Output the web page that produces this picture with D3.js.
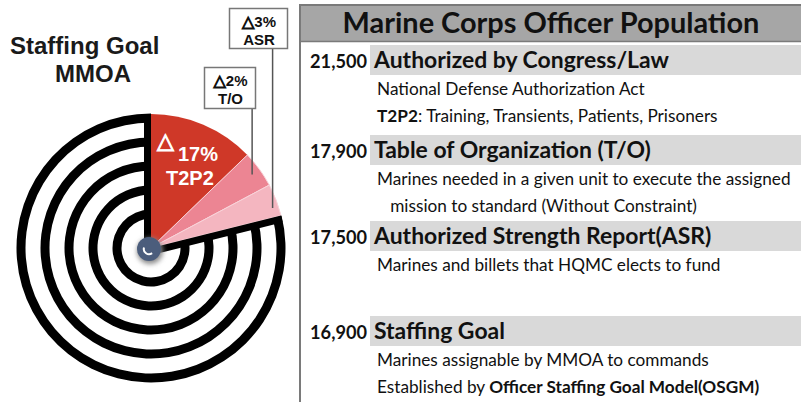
<!doctype html>
<html>
<head>
<meta charset="utf-8">
<script src="https://d3js.org/d3.v7.min.js"></script>
<style>
    body { margin: 0; background: #fff; }
    svg { display: block; }
    .tbl { font-family: Lato, "Open Sans", sans-serif; fill: #111; }
    .tbl-b { font-family: Lato, "Open Sans", sans-serif; font-weight: bold; fill: #111; }
    .gfx { font-family: "Liberation Sans", Arial, "DejaVu Sans", sans-serif; font-weight: bold; }
    .tri { font-family: "DejaVu Sans", sans-serif; font-weight: bold; }
</style>
</head>
<body>
<svg width="801" height="402"></svg>
<script>

    // population levels (table on the right)
    var levels = ["Authorized by Congress/Law", "Table of Organization (T/O)",
                  "Authorized Strength Report(ASR)", "Staffing Goal"];
    var officers = [21500, 17900, 17500, 16900];
    var notes = [
        ["National Defense Authorization Act", "**T2P2**: Training, Transients, Patients, Prisoners"],
        ["Marines needed in a given unit to execute the assigned", "   mission to standard (Without Constraint)"],
        ["Marines and billets that HQMC elects to fund"],
        ["Marines assignable by MMOA to commands", "Established by **Officer Staffing Goal Model(OSGM)**"]
    ];

    // gaps shown as wedges on the target
    var gapNames = ["T2P2", "T/O", "ASR"];
    var gapPct = [17, 2, 3];
    var wedgeColors = ["#cf3828", "#ec8593", "#f4b6c0"];

    // target rings
    var rings = [1, 2, 3, 4, 5];

    var svg = d3.select("svg");
    var fmt = d3.format(",");

    function sizeFor(str, cls, width) {
        var t = svg.append("text").attr("class", cls).style("font-size", "100px").text(str);
        var w = t.node().getComputedTextLength();
        t.remove();
        return 100 * width / w;
    }

    // ---------- table ----------
    var tbl = svg.append("g");
    tbl.append("rect")
       .attr("x", 300).attr("y", 5).attr("width", 520).attr("height", 420)
       .attr("fill", "#fff").attr("stroke", "#7a7a7a").attr("stroke-width", 2);
    tbl.append("rect")
       .attr("x", 301).attr("y", 6).attr("width", 520).attr("height", 35)
       .attr("fill", "#a6a6a6");
    tbl.append("line")
       .attr("x1", 300).attr("x2", 801).attr("y1", 41.5).attr("y2", 41.5)
       .attr("stroke", "#7a7a7a").attr("stroke-width", 1.5);

    var titleSize = sizeFor("Marine Corps Officer Population", "tbl-b", 417);
    tbl.append("text").attr("class", "tbl-b")
       .attr("x", 551).attr("y", 33).attr("text-anchor", "middle")
       .style("font-size", titleSize + "px")
       .text("Marine Corps Officer Population");

    var headSize = sizeFor(levels[0], "tbl-b", 295);
    var numSize = sizeFor(fmt(officers[0]), "tbl-b", 57);
    var noteSize = sizeFor(notes[0][0], "tbl", 268);

    var rowTop = [45, 135, 221, 316];
    var rows = levels.map(function(d, i) {
        return { name: d, count: officers[i], notes: notes[i], top: rowTop[i] };
    });

    var row = tbl.selectAll(".row").data(rows).enter().append("g").attr("class", "row");

    row.append("rect")
       .attr("x", 370).attr("y", function(d) { return d.top; })
       .attr("width", 440).attr("height", 30)
       .attr("fill", "#d9d9d9");

    row.append("text").attr("class", "tbl-b")
       .attr("x", 367).attr("y", function(d) { return d.top + 23; })
       .attr("text-anchor", "end")
       .style("font-size", numSize + "px")
       .text(function(d) { return fmt(d.count); });

    row.append("text").attr("class", "tbl-b")
       .attr("x", 374).attr("y", function(d) { return d.top + 23; })
       .style("font-size", headSize + "px")
       .text(function(d) { return d.name; });

    row.each(function(d) {
        var g = d3.select(this);
        d.notes.forEach(function(line, j) {
            var t = g.append("text").attr("class", "tbl")
                     .attr("x", 377).attr("y", d.top + 50 + j * 26.5)
                     .style("font-size", noteSize + "px")
                     .style("white-space", "pre");
            line.split("**").forEach(function(part, k) {
                if (!part) return;
                t.append("tspan")
                 .style("font-weight", k % 2 ? "bold" : "normal")
                 .text(part);
            });
        });
    });

    // ---------- target graphic ----------
    var cx = 151, cy = 248, R = 134;
    var gfx = svg.append("g").attr("class", "gfx");

    gfx.append("text").attr("x", 10).attr("y", 54)
       .style("font-size", "24px").attr("fill", "#1a1a1a").text("Staffing Goal");
    gfx.append("text").attr("x", 55).attr("y", 82)
       .style("font-size", "24px").attr("fill", "#1a1a1a").text("MMOA");

    var cum = [0];
    gapPct.forEach(function(p) { cum.push(cum[cum.length - 1] + p); });
    var rad = Math.PI / 180;
    var angle = d3.scaleLinear().domain(cum).range([0, 46 * rad, 62 * rad, 76 * rad]);
    var endA = angle(cum[cum.length - 1]);

    var target = gfx.append("g").attr("transform", "translate(" + cx + "," + cy + ")");

    var ringR = d3.scaleLinear().domain([1, rings.length]).range([34, 130]);
    var ringArc = d3.arc()
        .innerRadius(function(d) { return ringR(d) - 4.5; })
        .outerRadius(function(d) { return ringR(d) + 4.5; })
        .startAngle(endA).endAngle(2 * Math.PI);

    target.selectAll(".ring").data(rings).enter().append("path")
          .attr("class", "ring").attr("d", ringArc).attr("fill", "#000");

    var wedges = gapPct.map(function(p, i) {
        return { name: gapNames[i], pct: p, a0: angle(cum[i]), a1: angle(cum[i + 1]), color: wedgeColors[i] };
    });
    var wedgeArc = d3.arc().innerRadius(0).outerRadius(R)
        .startAngle(function(d) { return d.a0; }).endAngle(function(d) { return d.a1; });

    target.selectAll(".wedge").data(wedges).enter().append("path")
          .attr("class", "wedge").attr("d", wedgeArc)
          .attr("fill", function(d) { return d.color; })
          .attr("stroke", function(d, i) { return i ? "#f8d3d9" : "none"; })
          .attr("stroke-width", 1);

    // bounding radial lines of the rings
    [0, endA].forEach(function(a, i) {
        var side = i ? 1 : -1;
        var ox = side * 3.5 * Math.cos(a), oy = side * 3.5 * Math.sin(a);
        target.append("line")
              .attr("x1", ox).attr("y1", oy)
              .attr("x2", ox + R * Math.sin(a)).attr("y2", oy - R * Math.cos(a))
              .attr("stroke", "#000").attr("stroke-width", 7);
    });

    // centre dot
    var defs = svg.append("defs");
    defs.append("filter").attr("id", "blur")
        .attr("x", "-50%").attr("y", "-50%").attr("width", "200%").attr("height", "200%")
        .append("feGaussianBlur").attr("stdDeviation", 2.5);
    target.append("circle").attr("cx", -1).attr("cy", 3).attr("r", 13)
          .attr("fill", "#8a8a8a").attr("filter", "url(#blur)");
    target.append("circle").attr("cx", -2).attr("cy", 1).attr("r", 12)
          .attr("fill", "#4b5d7c");
    target.append("path")
          .attr("transform", "translate(-2,1)")
          .attr("d", d3.arc().innerRadius(4.2).outerRadius(6.2).startAngle(2.5).endAngle(5.0)())
          .attr("fill", "#fff");

    // red wedge label
    gfx.append("text").attr("class", "tri").attr("x", 157).attr("y", 148)
       .attr("fill", "#fff").attr("stroke", "#fff").attr("stroke-width", 1)
       .style("font-size", "22px").text("\u25B3");
    gfx.append("text").attr("x", 178).attr("y", 161)
       .attr("fill", "#fff").style("font-size", "20px").text(gapPct[0] + "%");
    gfx.append("text").attr("x", 166).attr("y", 185)
       .attr("fill", "#fff").style("font-size", "20px").text(gapNames[0]);

    // callouts for the small wedges
    var callouts = [
        { i: 1, frac: 0.5, r: 125, box: [204, 67, 51, 41] },
        { i: 2, frac: 0.7, r: 128, box: [229, 8, 58, 40] }
    ];
    callouts.forEach(function(c) {
        var w = wedges[c.i];
        var a = w.a0 + c.frac * (w.a1 - w.a0);
        var px = cx + c.r * Math.sin(a), py = cy - c.r * Math.cos(a);
        var b = c.box;
        gfx.append("line")
           .attr("x1", px).attr("x2", px).attr("y1", b[1] + b[3]).attr("y2", py)
           .attr("stroke", "#555").attr("stroke-width", 1.5);
        gfx.append("rect")
           .attr("x", b[0] + 0.5).attr("y", b[1] + 0.5).attr("width", b[2]).attr("height", b[3])
           .attr("fill", "#fff").attr("stroke", "#777").attr("stroke-width", 1.5);
        var mx = b[0] + b[2] / 2 + 1;
        var t1 = gfx.append("text").attr("x", mx).attr("y", b[1] + 19).attr("text-anchor", "middle")
           .style("font-size", "15px").attr("fill", "#111");
        t1.append("tspan").attr("class", "tri")
          .attr("stroke", "#111").attr("stroke-width", 1.1)
          .style("font-size", "16px").text("\u25B3");
        t1.append("tspan").text(w.pct + "%");
        gfx.append("text").attr("x", mx).attr("y", b[1] + 37).attr("text-anchor", "middle")
           .style("font-size", "15px").attr("fill", "#111")
           .text(w.name);
    });

</script>
</body>
</html>
